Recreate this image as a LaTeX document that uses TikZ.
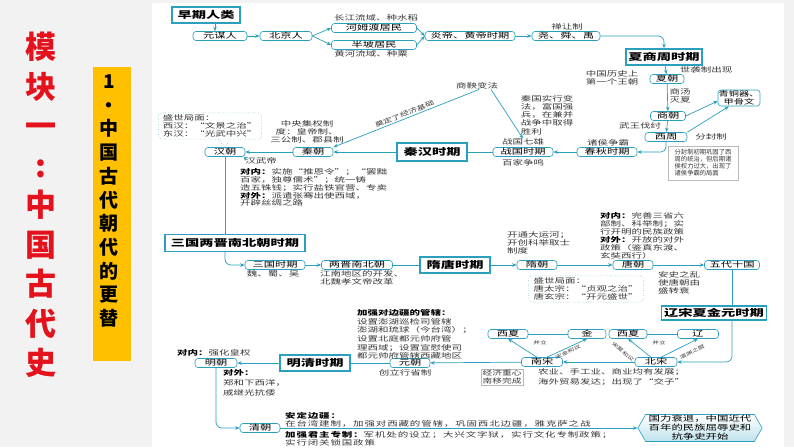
\documentclass[tikz,border=0pt]{standalone}
\usepackage{fontspec}
\setmainfont{Noto Sans CJK SC}
\newfontfamily\cjkwide{Noto Sans CJK SC}[FakeStretch=1.5]
\newfontfamily\cjkwider{Noto Sans CJK SC}[FakeStretch=1.5, LetterSpace=12]
\usetikzlibrary{arrows.meta,shapes.symbols}
\definecolor{lineblue}{RGB}{42,160,190}
\definecolor{titlered}{RGB}{228,18,28}
\definecolor{boxorange}{RGB}{255,192,0}
\definecolor{notegray}{RGB}{55,55,55}
\tikzset{
  era/.style={draw=lineblue, line width=1.4pt, fill=white, inner sep=0pt,
    font=\cjkwide\bfseries\fontsize{9.5}{9.5}\selectfont},
  dyn/.style={draw=lineblue, line width=0.6pt, rounded corners=3pt, fill=white,
    inner sep=0pt, minimum height=9pt, font=\cjkwide\fontsize{7.5}{7.5}\selectfont},
  note/.style={inner sep=0pt, align=left, text=notegray,
    font=\cjkwide\fontsize{7}{8.2}\selectfont},
  tiny/.style={inner sep=0.5pt, text=notegray, font=\cjkwide\fontsize{4.5}{4.5}\selectfont},
  link/.style={draw=lineblue, line width=0.7pt, -{Stealth[length=4.5pt,width=3.5pt]}},
  tie/.style={draw=lineblue, line width=0.7pt},
  tipbox/.style={draw=lineblue!80, line width=0.5pt, dotted, rounded corners=3pt, fill=white,
    inner sep=2pt, align=left, text=notegray, font=\cjkwide\fontsize{7}{7.8}\selectfont},
  flatbox/.style={draw=gray!55, line width=0.4pt, fill=white, text=notegray},
}
\newcommand{\hd}[1]{\textcolor{black}{\bfseries #1}}
\begin{document}
\begin{tikzpicture}[x=1pt,y=-1pt]
\fill[gray!10] (0,0) rectangle (794,447);
\fill[white] (152,3) rectangle (784,447);
\useasboundingbox (0,0) rectangle (794,447);

% left titles
\node[text=titlered, font=\bfseries\fontsize{31}{39.5}\selectfont, align=center, inner sep=0pt] (title) at (41,205) {模\\块\\一\\:\\中\\国\\古\\代\\史};
\node[fill=boxorange, minimum width=38pt, minimum height=294pt, inner sep=0pt] (band) at (112,214) {};
\node[font=\bfseries\fontsize{19}{23.7}\selectfont, align=center, inner sep=0pt] (bandtext) at (109,201) {1\\·\\中\\国\\古\\代\\朝\\代\\的\\更\\替};

% early humans
\node[era, minimum width=68pt, minimum height=16pt] (zaoqi) at (206,15) {早期人类};
\node[dyn, minimum width=54pt] (yuanmou) at (220,36) {元谋人};
\node[dyn, minimum width=52pt] (beijing) at (286,36) {北京人};
\node[dyn, minimum width=85pt] (hemudu) at (374,28) {河姆渡居民};
\node[dyn, minimum width=85pt] (banpo) at (374,45) {半坡居民};
\node[note] at (376,18) {长江流域、种水稻};
\node[note] at (371,54) {黄河流域、种粟};
\node[dyn, minimum width=90pt] (yanhuang) at (470,36) {炎帝、黄帝时期};
\node[dyn, minimum width=68pt] (yaoshunyu) at (566,36) {尧、舜、禹};
\node[note] at (567,27) {禅让制};

% xia shang zhou
\node[era, minimum width=76pt, minimum height=16pt] (xsz) at (664,57) {夏商周时期};
\node[dyn, minimum width=34pt] (xia) at (667,79) {夏朝};
\node[note, align=center] at (612,78) {中国历史上\\第一个王朝};
\node[note] at (706,70) {世袭制出现};
\node[dyn, minimum width=35pt] (shang) at (668,116) {商朝};
\node[note] at (680,96) {商汤\\灭夏};
\node[dyn, minimum width=42pt, minimum height=16pt, align=center, font=\cjkwide\fontsize{6.8}{7.5}\selectfont] (qingtong) at (739,98) {青铜器、\\甲骨文};
\node[note] at (640,126) {武王伐纣};
\node[dyn, minimum width=42pt] (xizhou) at (666,137) {西周};
\node[note] (fenfeng) at (711,137) {分封制};
\node[flatbox, minimum width=70pt, minimum height=34pt, inner sep=1pt, align=left, font=\fontsize{6.3}{7}\selectfont] (fenbox) at (703,163) {分封制初期巩固了西\\周的统治，但后期诸\\侯权力过大，出现了\\诸侯争霸的局面};
\node[dyn, minimum width=60pt] (chunqiu) at (607,152) {春秋时期};
\node[note] at (608,143) {诸侯争霸};
\node[dyn, minimum width=60pt] (zhanguo) at (523,152) {战国时期};
\node[note] (qixiong) at (523,142) {战国七雄};
\node[note] at (523,163) {百家争鸣};

% qin han
\node[era, minimum width=70pt, minimum height=18pt] (qinhan) at (432,152) {秦汉时期};
\node[note] (shangyang) at (477,86) {商鞅变法};
\node[note] at (547,115) {秦国实行变\\法，富国强\\兵，在兼并\\战争中取得\\胜利};
\node[dyn, minimum width=40pt] (qin) at (313,152) {秦朝};
\node[note, align=center] at (307,132) {中央集权制\\度：皇帝制、\\三公制、郡县制};
\node[dyn, minimum width=40pt] (han) at (225,152) {汉朝};
\node[tipbox, minimum width=103pt] (hanbox) at (210,126) {盛世局面：\\西汉：“文景之治”\\东汉：“光武中兴”};
\node[note] (hanwudi) at (261,161) {汉武帝};
\node[note, anchor=north west, font=\cjkwide\fontsize{7}{7.8}\selectfont] at (240,168.5) {\hd{对内：}实施“推恩令”；“罢黜\\百家，独尊儒术”；统一铸\\造五铢钱；实行盐铁官营、专卖\\\hd{对外：}派遣张骞出使西域，\\开辟丝绸之路};

% sanguo to sui tang
\node[era, minimum width=140pt, minimum height=17pt] (sgln) at (235,243) {三国两晋南北朝时期};
\node[dyn, minimum width=60pt] (sanguo) at (275,265) {三国时期};
\node[note] at (273,274) {魏、蜀、吴};
\node[dyn, minimum width=71pt] (liangjin) at (357,265) {两晋南北朝};
\node[note, anchor=north west] at (320,270) {江南地区的开发、\\北魏孝文帝改革};
\node[era, minimum width=70pt, minimum height=16pt] (suitang) at (455,265) {隋唐时期};
\node[dyn, minimum width=40pt] (sui) at (537,265) {隋朝};
\node[note, anchor=north west] at (507,231) {开通大运河；\\开创科举取士\\制度};
\node[dyn, minimum width=40pt] (tang) at (633,265) {唐朝};
\node[tipbox, minimum width=115pt] (tangbox) at (586,289) {盛世局面：\\唐太宗：“贞观之治”\\唐玄宗：“开元盛世”};
\node[note, anchor=north west, font=\cjkwide\fontsize{7}{7.9}\selectfont] at (600,212.5) {\hd{对内：}完善三省六\\部制、科举制；实\\行开明的民族政策\\\hd{对外：}开放的对外\\政策（鉴真东渡、\\玄奘西行）};
\node[dyn, minimum width=55pt] (wudai) at (732,265) {五代十国};
\node[note, anchor=north west] at (658,271) {安史之乱\\使唐朝由\\盛转衰};

% liao song xia jin yuan
\node[era, minimum width=105pt, minimum height=14pt] (liaosong) at (714,313) {辽宋夏金元时期};
\node[dyn, minimum width=42pt] (beisong) at (656,362) {北宋};
\node[dyn, minimum width=41pt] (nansong) at (542,362) {南宋};
\node[dyn, minimum width=40pt] (xixiaA) at (508,334) {西夏};
\node[dyn, minimum width=38pt] (jin) at (587,334) {金};
\node[dyn, minimum width=38pt] (xixiaB) at (628,334) {西夏};
\node[dyn, minimum width=41pt] (liao) at (698,334) {辽};
\node[tiny] at (540,343) {并立};
\node[tiny] at (659,343) {并立};
\node[tiny, rotate=25] at (568,352) {宋金和议};
\node[tiny, rotate=-40] at (623,352) {宋夏和议};
\node[tiny, rotate=27] at (692,352) {澶渊之盟};
\node[flatbox, inner sep=1.5pt, align=center, font=\cjkwide\fontsize{6.5}{7.5}\selectfont] (zhongxin) at (502,377) {经济重心\\南移完成};
\node[note, anchor=north west, font=\cjkwide\fontsize{7}{10}\selectfont] at (538,368.5) {农业、手工业、商业均有发展；\\海外贸易发达；出现了“交子”};
\node[dyn, minimum width=40pt] (yuan) at (410,363) {元朝};
\node[note] at (405,373) {创立行省制};
\node[note, anchor=north west, font=\cjkwide\fontsize{7}{8.6}\selectfont] at (357,309.5) {\hd{加强对边疆的管辖：}\\设置澎湖巡检司管辖\\澎湖和琉球（今台湾）；\\设置北庭都元帅府管\\理西域；设置宣慰使司\\都元帅府管辖西藏地区};

% ming qing
\node[era, minimum width=70pt, minimum height=16pt] (mingqing) at (315,363) {明清时期};
\node[dyn, minimum width=42pt] (ming) at (216,363) {明朝};
\node[note, anchor=west] at (177,353) {\hd{对内：}强化皇权};
\node[note, anchor=north west, font=\cjkwide\fontsize{7}{10}\selectfont] at (223,369) {\hd{对外：}\\郑和下西洋，\\戚继光抗倭};
\node[dyn, minimum width=40pt] (qing) at (260,428) {清朝};
\node[note, anchor=north west, font=\cjkwider\fontsize{7}{8}\selectfont] at (285,412) {\hd{安定边疆：}\\在台湾建制，加强对西藏的管辖，巩固西北边疆，雅克萨之战};
\node[note, anchor=north west, font=\cjkwider\fontsize{7}{8.6}\selectfont] at (285,431) {\hd{加强君主专制：}军机处的设立；大兴文字狱，实行文化专制政策；\\实行闭关锁国政策};
\node[signal, signal to=east and west, signal pointer angle=120, draw=lineblue, line width=0.6pt, top color=white, bottom color=lineblue!30, inner xsep=3pt, inner ysep=1pt, align=center, font=\cjkwide\fontsize{7.6}{9}\selectfont] (fate) at (700,428) {国力衰退，中国近代\\百年的民族屈辱史和\\抗争史开始};

% connectors
\draw[link] ([xshift=9pt]zaoqi.south) -- ([xshift=-5pt]yuanmou.north);
\draw[link] (yuanmou) -- (beijing);
\draw[link] (beijing.east) -- (hemudu.west);
\draw[link] (beijing.east) -- (banpo.west);
\draw[link] (hemudu.east) -- (yanhuang.west);
\draw[link] (banpo.east) -- (yanhuang.west);
\draw[link] (yanhuang) -- (yaoshunyu);
\draw[link, rounded corners=6pt] (yaoshunyu.east) -| (xsz.north);
\draw[link] (xsz) -- (xia);
\draw[link] (xia) -- (shang);
\draw[link] (shang) -- (xizhou);
\draw[link] (shang.east) -- ([yshift=-3pt]qingtong.west);
\draw[link] (xizhou.north east) -- ([xshift=-10pt]qingtong.south);
\draw[link, rounded corners=5pt] (xizhou.south) |- (chunqiu.east);
\draw[link] (chunqiu) -- (zhanguo);
\draw[tie] (zhanguo) -- (qinhan);
\draw[link] ([xshift=14pt]shangyang.south) -- (qixiong.north);
\draw[link] ([xshift=2pt]shangyang.south) -- node[sloped, above=1pt, tiny, font=\cjkwide\fontsize{6}{6}\selectfont] {奠定了经济基础} (qin.north east);
\draw[link] (qinhan) -- (qin);
\draw[link] (qin) -- (han);
\draw[draw=lineblue!80, line width=0.5pt, dotted] ([xshift=-7pt]han.north |- hanbox.south) -- (han.north) -- ([xshift=5pt]han.north |- hanbox.south);
\draw[link] (han.south east) -- (hanwudi.west);
\draw[tie] (han.south) -- (han.south |- sgln.north);
\draw[link, rounded corners=6pt] (han.south |- sgln.south) |- (sanguo.west);
\draw[link] (sanguo) -- (liangjin);
\draw[tie] (liangjin) -- (suitang);
\draw[link] (suitang) -- (sui);
\draw[link] (sui) -- (tang);
\draw[link] (tang) -- (wudai);
\draw[tie] (wudai.south) -- (wudai.south |- liaosong.north);
\draw[link, rounded corners=6pt] (wudai.south |- liaosong.south) |- (beisong.east);
\draw[link] (beisong) -- (nansong);
\draw[link] ([xshift=-5pt]nansong.north) -- (xixiaA.south);
\draw[link] ([xshift=5pt]nansong.north) -- (jin.south);
\draw[link] ([xshift=-5pt]beisong.north) -- (xixiaB.south);
\draw[link] ([xshift=5pt]beisong.north) -- (liao.south);
\draw[tie] (xixiaA) -- (jin);
\draw[tie] (xixiaB) -- (liao);
\draw[link] (nansong) -- (yuan);
\draw[tie] (yuan) -- (mingqing);
\draw[link] (mingqing) -- (ming);
\draw[link, rounded corners=6pt] (ming.south) |- (qing.west);
\draw[link] (qing.east) -- (fate.west);
\end{tikzpicture}
\end{document}
